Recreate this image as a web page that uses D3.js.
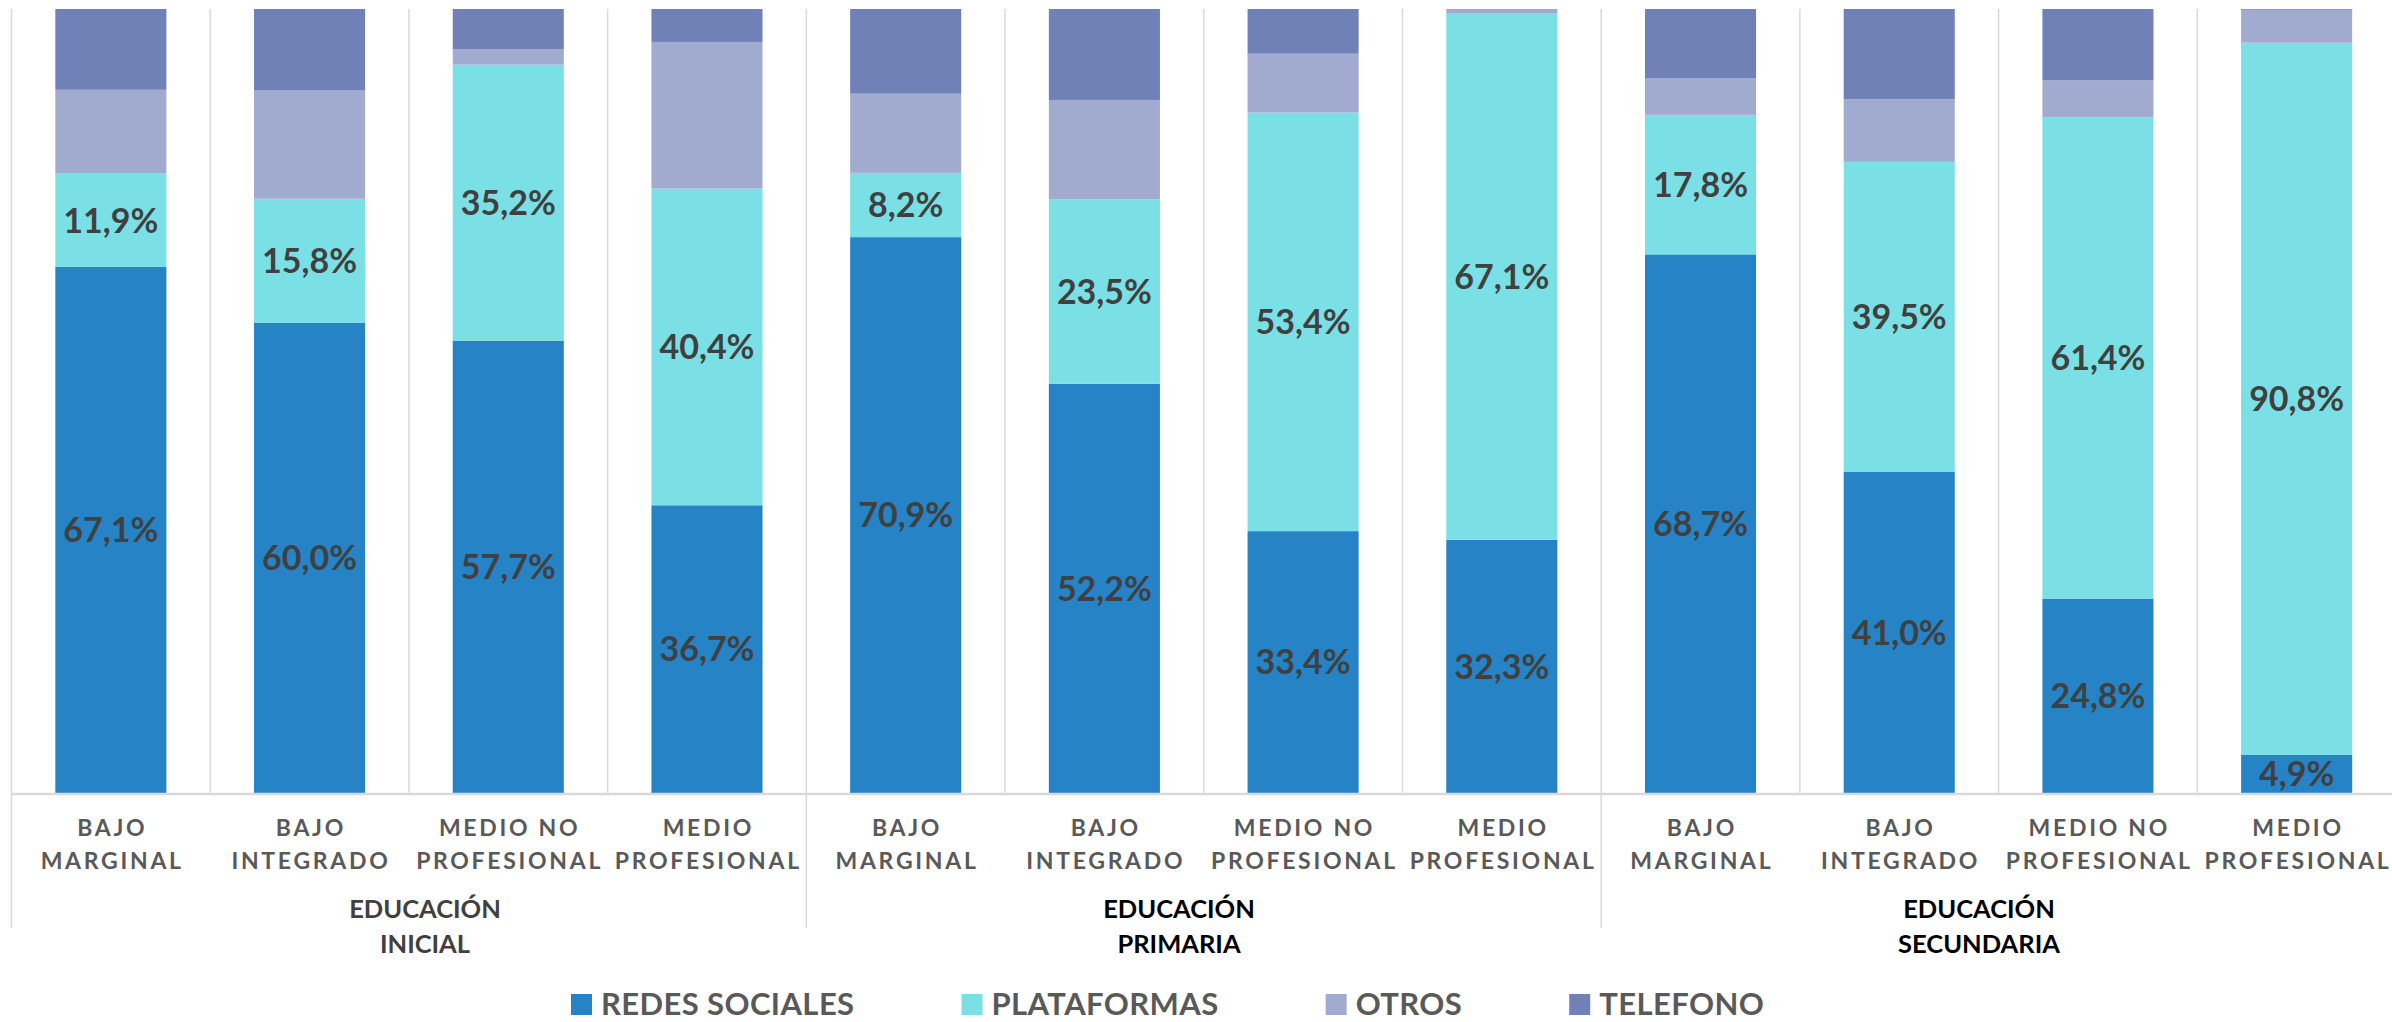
<!DOCTYPE html>
<html>
<head>
<meta charset="utf-8">
<script src="https://cdn.jsdelivr.net/npm/d3@7/dist/d3.min.js"></script>
<style>
  html, body { margin: 0; padding: 0; background: #fff; }
  svg { display: block; }
  text { font-family: Lato, "Open Sans", sans-serif; font-weight: 700; }
</style>
</head>
<body>
<svg id="chart" width="2392" height="1022"></svg>
<script>
// ---- Data ----
const groupLabels = [["EDUCACIÓN", "INICIAL"], ["EDUCACIÓN", "PRIMARIA"], ["EDUCACIÓN", "SECUNDARIA"]];
const levelLabels = [["BAJO", "MARGINAL"], ["BAJO", "INTEGRADO"], ["MEDIO NO", "PROFESIONAL"], ["MEDIO", "PROFESIONAL"]];
const seriesNames = ["REDES SOCIALES", "PLATAFORMAS", "OTROS", "TELEFONO"];
const redesSociales = [67.1, 60.0, 57.7, 36.7, 70.9, 52.2, 33.4, 32.3, 68.7, 41.0, 24.8, 4.9];
const plataformas   = [11.9, 15.8, 35.2, 40.4, 8.2, 23.5, 53.4, 67.1, 17.8, 39.5, 61.4, 90.8];
const otros         = [10.7, 13.8, 2.0, 18.7, 10.1, 12.7, 7.5, 0.6, 4.7, 8.0, 4.7, 4.2];
const telefono      = [10.3, 10.4, 5.1, 4.2, 10.8, 11.6, 5.7, 0.0, 8.8, 11.5, 9.1, 0.1];
const seriesColors = ["#2683C6", "#7BE0E5", "#A1ABCF", "#6F81B7"];
const labeledSeries = [true, true, false, false];

(function () {
// ---- Build table ----
const seriesValues = [redesSociales, plataformas, otros, telefono];
const rows = [];
groupLabels.forEach((g, gi) => {
  levelLabels.forEach((l, li) => {
    const i = gi * levelLabels.length + li;
    const row = { idx: i, group: gi, level: l };
    seriesNames.forEach((s, si) => row[s] = seriesValues[si][i]);
    rows.push(row);
  });
});

const svg = d3.select("#chart");
const pLeft = 11.5, pRight = 2396, pTop = 9, pBottom = 793;

const x = d3.scaleBand().domain(rows.map(d => d.idx)).range([pLeft, pRight]).padding(0);
const y = d3.scaleLinear().domain([0, 100]).range([pBottom, pTop]);
const gx = d3.scaleBand().domain(groupLabels.map((d, i) => i)).range([pLeft, pRight]).padding(0);
const barFrac = 0.559;
const barW = x.bandwidth() * barFrac;
const barOff = (x.bandwidth() - barW) / 2;

const stack = d3.stack().keys(seriesNames)(rows);

// gridlines between categories (inside plot)
svg.append("g").selectAll("line")
  .data(rows.map(d => d.idx).concat([rows.length]))
  .join("line")
  .attr("x1", d => d < rows.length ? x(d) : x(rows.length - 1) + x.bandwidth())
  .attr("x2", d => d < rows.length ? x(d) : x(rows.length - 1) + x.bandwidth())
  .attr("y1", pTop).attr("y2", pBottom)
  .attr("stroke", "#d9d9d9").attr("stroke-width", 1.5);

// group separators below axis
svg.append("g").selectAll("line")
  .data(d3.range(groupLabels.length + 1))
  .join("line")
  .attr("x1", d => d < groupLabels.length ? gx(d) : gx(groupLabels.length - 1) + gx.bandwidth())
  .attr("x2", d => d < groupLabels.length ? gx(d) : gx(groupLabels.length - 1) + gx.bandwidth())
  .attr("y1", pBottom).attr("y2", 928)
  .attr("stroke", "#d9d9d9").attr("stroke-width", 1.5);

// bars
const layers = svg.append("g").selectAll("g")
  .data(stack).join("g")
  .attr("fill", (d, i) => seriesColors[i]);
layers.selectAll("rect")
  .data(d => d).join("rect")
  .attr("x", d => x(d.data.idx) + barOff)
  .attr("width", barW)
  .attr("y", d => y(d[1]))
  .attr("height", d => Math.max(0, y(d[0]) - y(d[1])));

// axis line
svg.append("line")
  .attr("x1", pLeft).attr("x2", pRight)
  .attr("y1", y(0) + 1).attr("y2", y(0) + 1)
  .attr("stroke", "#d9d9d9").attr("stroke-width", 2.5);

// data labels
stack.forEach((layer, si) => {
  if (!labeledSeries[si]) return;
  svg.append("g").selectAll("text")
    .data(layer).join("text")
    .attr("x", d => x(d.data.idx) + x.bandwidth() / 2)
    .attr("y", d => (y(d[0]) + y(d[1])) / 2)
    .attr("dy", "0.36em")
    .attr("text-anchor", "middle")
    .attr("font-size", 34)
    .attr("fill", "#404040")
    .text(d => d3.format(".1f")(d[1] - d[0]).replace(".", ",") + "%");
});

// category labels
const ls = 2.7;
const catG = svg.append("g").selectAll("text")
  .data(rows).join("text")
  .attr("text-anchor", "middle")
  .attr("font-size", 23)
  .attr("letter-spacing", ls)
  .attr("fill", "#595959");
catG.each(function(d) {
  const t = d3.select(this);
  d.level.forEach((line, li) => {
    t.append("tspan")
      .attr("x", x(d.idx) + x.bandwidth() / 2 + ls / 2)
      .attr("y", 836 + li * 33)
      .text(line);
  });
});

// group labels
const groupCenters = [425, 1179, 1979];
svg.append("g").selectAll("text")
  .data(groupLabels).join("text")
  .attr("text-anchor", "middle")
  .attr("font-size", 25.5)
  .attr("fill", (d, i) => i === 0 ? "#404040" : "#000")
  .each(function(d, i) {
    const t = d3.select(this);
    d.forEach((line, li) => {
      t.append("tspan").attr("x", groupCenters[i]).attr("y", 918 + li * 35).text(line);
    });
  });

// legend
const legend = svg.append("g");
let lx = 571;
seriesNames.forEach((name, i) => {
  legend.append("rect").attr("x", lx).attr("y", 994).attr("width", 21).attr("height", 21).attr("fill", seriesColors[i]);
  const t = legend.append("text").attr("x", lx + 30).attr("y", 1015)
    .attr("font-size", 31).attr("letter-spacing", 0.4).attr("fill", "#595959").text(name);
  lx += 30 + t.node().getComputedTextLength() + 107;
});
})();
</script>
</body>
</html>
